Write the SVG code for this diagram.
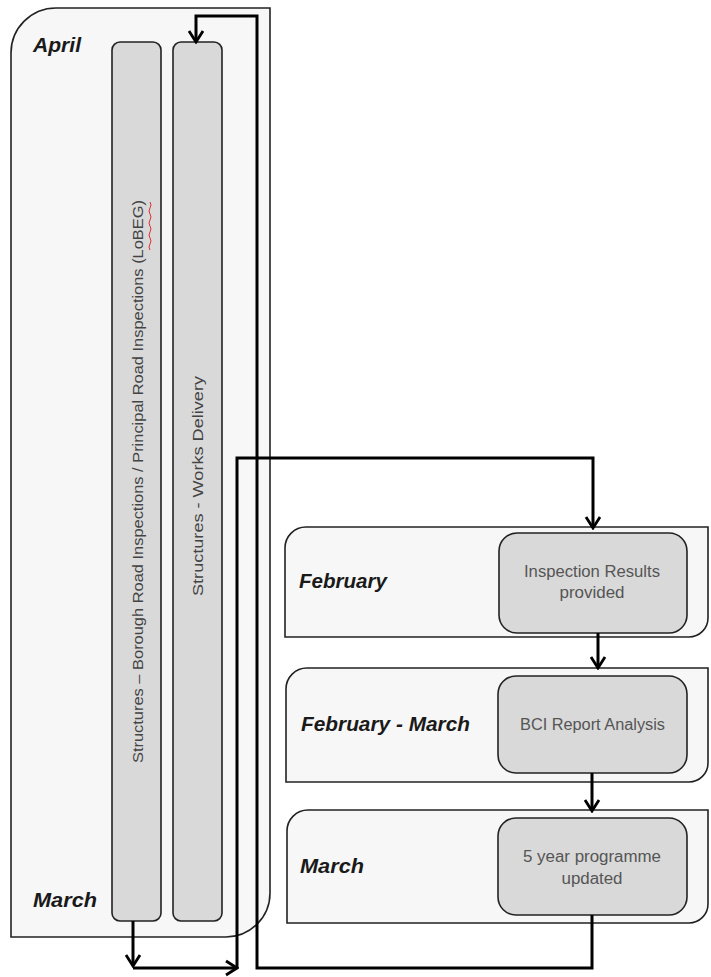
<svg xmlns="http://www.w3.org/2000/svg" width="711" height="977" viewBox="0 0 711 977">
<defs>
<style>
.cont{fill:#f7f7f7;stroke:#222;stroke-width:1.6}
.bar{fill:#d9d9d9;stroke:#222;stroke-width:1.6}
.box{fill:#d9d9d9;stroke:#222;stroke-width:1.6}
.month{font-family:"Liberation Sans",Arial,sans-serif;font-weight:bold;font-style:italic;font-size:20px;fill:#1a1a1a}
.lbl{font-family:"Liberation Sans",Arial,sans-serif;font-size:16px;fill:#555;text-anchor:middle}
.vlbl{font-family:"Liberation Sans",Arial,sans-serif;font-size:15px;fill:#444;text-anchor:middle}
.conn{fill:none;stroke:#000;stroke-width:3}
</style>
<marker id="arr" markerUnits="userSpaceOnUse" viewBox="-14 -10 16 20" refX="0" refY="0" markerWidth="16" markerHeight="20" orient="auto">
<path d="M-11,-7 L0,0 L-11,7" fill="none" stroke="#000" stroke-width="2.8"/>
</marker>
</defs>
<rect width="711" height="977" fill="#fff"/>
<g id="april-container">
<path class="cont" d="M11,53 A45,45 0 0 1 56,8 H270 V893 A44,44 0 0 1 226,937 H11 Z"/>
<text class="month" x="33" y="52" textLength="48" lengthAdjust="spacingAndGlyphs">April</text>
<text class="month" x="33" y="907" textLength="64" lengthAdjust="spacingAndGlyphs">March</text>
</g>
<g id="bar-inspections">
<rect class="bar" x="112" y="42" width="49" height="879" rx="8"/>
<text class="vlbl" transform="translate(143,481.5) rotate(-90)" x="0" y="0" textLength="563" lengthAdjust="spacingAndGlyphs">Structures – Borough Road Inspections / Principal Road Inspections (LoBEG)</text>
<path d="M150,202 q2,3 0,6 q-2,3 0,6 q2,3 0,6 q-2,3 0,6 q2,3 0,6 q-2,3 0,6 q2,3 0,6 q-2,3 0,6" fill="none" stroke="#e03030" stroke-width="1"/>
</g>
<g id="bar-works">
<rect class="bar" x="173" y="42" width="49" height="879" rx="8"/>
<text class="vlbl" transform="translate(203,486) rotate(-90)" x="0" y="0" textLength="220" lengthAdjust="spacingAndGlyphs">Structures - Works Delivery</text>
</g>
<g id="february">
<path class="cont" d="M285,548 A21,21 0 0 1 306,527 H708 V618 A19,19 0 0 1 689,637 H285 Z"/>
<text class="month" x="299" y="588" textLength="88" lengthAdjust="spacingAndGlyphs">February</text>
</g>
<g id="inspection-results">
<rect class="box" x="499" y="533" width="188" height="100" rx="18"/>
<text class="lbl" x="592" y="577" textLength="136" lengthAdjust="spacingAndGlyphs">Inspection Results</text>
<text class="lbl" x="592" y="598" textLength="65" lengthAdjust="spacingAndGlyphs">provided</text>
</g>
<g id="february-march">
<path class="cont" d="M286,689 A21,21 0 0 1 307,668 H708 V763 A19,19 0 0 1 689,782 H286 Z"/>
<text class="month" x="301" y="731" textLength="169" lengthAdjust="spacingAndGlyphs">February - March</text>
</g>
<g id="bci-report">
<rect class="box" x="498" y="676" width="189" height="97" rx="18"/>
<text class="lbl" x="592.5" y="730" textLength="145" lengthAdjust="spacingAndGlyphs">BCI Report Analysis</text>
</g>
<g id="march">
<path class="cont" d="M287,831 A21,21 0 0 1 308,810 H708 V904 A19,19 0 0 1 689,923 H287 Z"/>
<text class="month" x="300" y="873" textLength="64" lengthAdjust="spacingAndGlyphs">March</text>
</g>
<g id="five-year">
<rect class="box" x="498" y="818" width="189" height="97" rx="18"/>
<text class="lbl" x="592" y="862" textLength="138" lengthAdjust="spacingAndGlyphs">5 year programme</text>
<text class="lbl" x="592" y="884" textLength="61" lengthAdjust="spacingAndGlyphs">updated</text>
</g>
<g id="connectors">
<path class="conn" d="M592,915 V968 H257 V16 H196 V42" marker-end="url(#arr)"/>
<path class="conn" d="M133,921 V966" marker-end="url(#arr)"/>
<path class="conn" d="M133,968 H237" marker-end="url(#arr)"/>
<path class="conn" d="M237,968 V458 H593 V528" marker-end="url(#arr)"/>
<path class="conn" d="M598,633 V668" marker-end="url(#arr)"/>
<path class="conn" d="M592,773 V811" marker-end="url(#arr)"/>
</g>
</svg>
